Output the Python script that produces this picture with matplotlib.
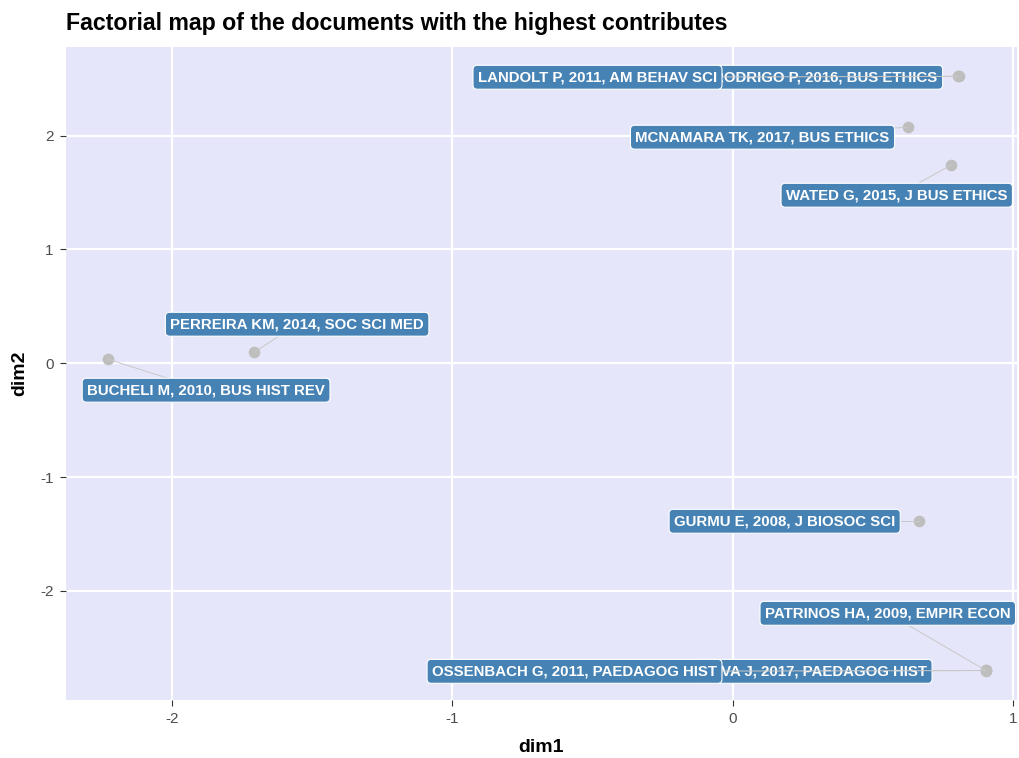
import matplotlib.pyplot as plt

plt.rcParams['font.family'] = ['Liberation Sans', 'DejaVu Sans']

# documents, in drawing order
docs = ["RODRIGO P, 2016, BUS ETHICS", "LANDOLT P, 2011, AM BEHAV SCI",
        "MCNAMARA TK, 2017, BUS ETHICS", "WATED G, 2015, J BUS ETHICS",
        "PERREIRA KM, 2014, SOC SCI MED", "BUCHELI M, 2010, BUS HIST REV",
        "GURMU E, 2008, J BIOSOC SCI", "PATRINOS HA, 2009, EMPIR ECON",
        "SILVA J, 2017, PAEDAGOG HIST", "OSSENBACH G, 2011, PAEDAGOG HIST"]
dim1 = [0.807, 0.805, 0.625, 0.779, -1.707, -2.229, 0.664, 0.904, 0.904, 0.903]
dim2 = [2.523, 2.522, 2.075, 1.741, 0.097, 0.035, -1.389, -2.700, -2.700, -2.701]
# repelled label centres
lab_x = [0.332, -0.482, 0.107, 0.586, -1.554, -1.879, 0.186, 0.554, 0.2875, -0.564]
lab_y = [2.514, 2.514, 1.987, 1.477, 0.343, -0.237, -1.389, -2.198, -2.708, -2.708]

xticks = [-2, -1, 0, 1]
yticks = [-2, -1, 0, 1, 2]

fig = plt.figure(figsize=(10.2, 7.58), dpi=100)
ax = fig.add_axes([0.0647, 0.0765, 0.9323, 0.8615])
ax.set_facecolor('#E6E6FA')
for s in ax.spines.values():
    s.set_visible(False)
ax.grid(True, color='white', linewidth=1.6)
ax.set_axisbelow(True)

ax.scatter(dim1, dim2, s=70, color='#BEBEBE', zorder=2, linewidths=0)

z = 3
for name, px, py, lx, ly in zip(docs, dim1, dim2, lab_x, lab_y):
    ax.plot([px, lx], [py, ly], color='#C8C8C8', lw=0.7, zorder=z)
    ax.text(lx, ly, name, color='white', fontsize=10.8, fontweight='bold',
            ha='center', va='center', zorder=z + 1,
            bbox=dict(boxstyle='round,pad=0.33,rounding_size=0.28',
                      fc='#4682B4', ec='white', lw=0.8))
    z += 2

ax.set_xlim(-2.379, 1.015)
ax.set_ylim(-2.96, 2.78)
ax.set_xticks(xticks)
ax.set_yticks(yticks)
ax.set_xticklabels([str(t) for t in xticks])
ax.set_yticklabels([str(t) for t in yticks])
ax.tick_params(colors='#333333', labelcolor='#4D4D4D', labelsize=11,
               length=4.3, width=0.8)
ax.tick_params(axis='y', pad=4.5)
ax.tick_params(axis='x', pad=4)
ax.set_xlabel('dim1', fontsize=14, fontweight='bold', labelpad=10)
ax.set_ylabel('dim2', fontsize=14, fontweight='bold', labelpad=9)

fig.text(0.0647, 1 - 30 / 758, 'Factorial map of the documents with the highest contributes',
         fontsize=16.7, fontweight='bold', ha='left', va='baseline')

fig.savefig('out.png', dpi=100)
